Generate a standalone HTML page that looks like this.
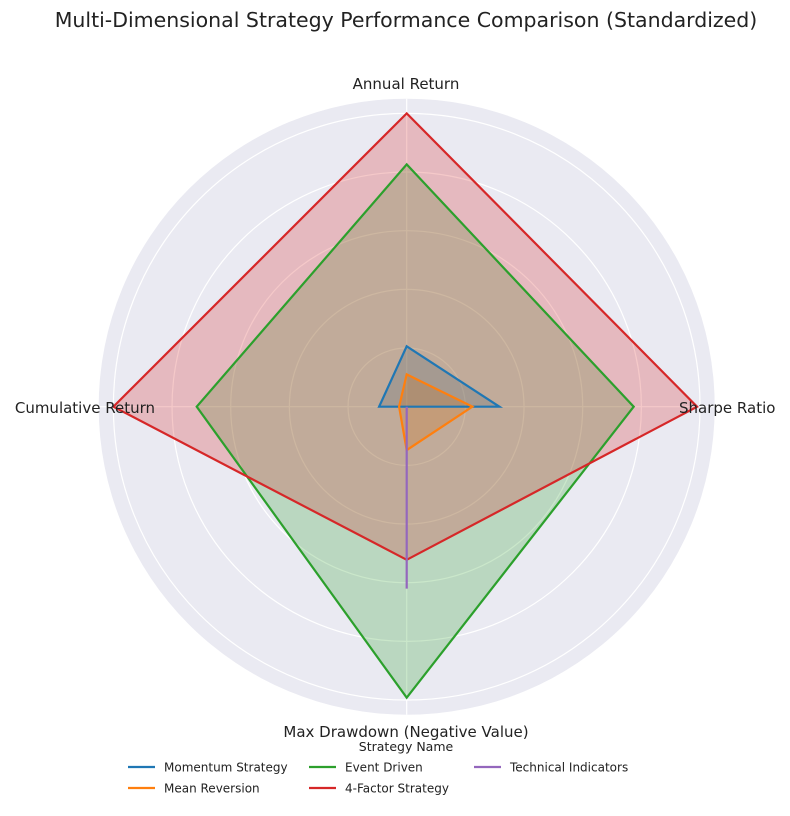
<!DOCTYPE html>
<html><head><meta charset="utf-8"><style>
body{margin:0;background:#fff;}
svg{font-family:"DejaVu Sans","Liberation Sans",sans-serif;}
</style></head><body>
<svg id="chart" width="790" height="811" viewBox="0 0 790 811">
<text x="406" y="27" text-anchor="middle" font-size="20.5" fill="#222">Multi-Dimensional Strategy Performance Comparison (Standardized)</text>
<g id="grid"></g>
<g id="fills"></g>
<g id="series"></g>
<g id="labels"></g>
<g id="legend"></g>
</svg>
<script>
const categories = ["Annual Return","Sharpe Ratio","Max Drawdown (Negative Value)","Cumulative Return"];
const seriesNames = ["Momentum Strategy","Mean Reversion","Event Driven","4-Factor Strategy","Technical Indicators"];
const momentum = [1.03,1.58,0,0.47];
const meanReversion = [0.55,1.12,0.74,0.13];
const eventDriven = [4.13,3.87,4.96,3.58];
const fourFactor = [5.0,4.95,2.61,5.0];
const technical = [0,0,3.1,0];
const radialTicks = [1,2,3,4,5];
const rMax = 5.25;

const seriesValues = [momentum,meanReversion,eventDriven,fourFactor,technical];
const colors = ["#1f77b4","#ff7f0e","#2ca02c","#d62728","#9467bd"];
const cx=406.7, cy=406.7, R=308;
const NS="http://www.w3.org/2000/svg";
function rScale(v){return v/rMax*R;}
function angle(i){return -Math.PI/2 + i*2*Math.PI/categories.length;}
function pt(i,v){const a=angle(i),r=rScale(v);return [cx+r*Math.cos(a), cy+r*Math.sin(a)];}
function mk(tag,attrs,parent){const e=document.createElementNS(NS,tag);for(const k in attrs)e.setAttribute(k,attrs[k]);parent.appendChild(e);return e;}

const grid=document.getElementById('grid');
const bg=mk('circle',{cx:cx,cy:cy,r:R,fill:'#eaeaf2'},grid);


radialTicks.forEach(t=>{
  const c=mk('circle',{cx:cx,cy:cy,r:rScale(t),fill:'none',stroke:'#fff','stroke-width':1.2},grid);
  
  
});
categories.forEach((c,i)=>{
  const p=pt(i,rMax);
  const l=mk('line',{x1:cx,y1:cy,x2:p[0],y2:p[1],stroke:'#fff','stroke-width':1.2},grid);
  
  
});

const fg=document.getElementById('fills');
const sg=document.getElementById('series');
seriesValues.forEach((vals,s)=>{
  const pts=vals.map((v,i)=>pt(i,v));
  const d=pts.map(p=>p[0].toFixed(1)+','+p[1].toFixed(1)).join(' ');
  const f=mk('polygon',{points:d,fill:colors[s],'fill-opacity':0.25,stroke:'none'},fg);
  
  
  const o=mk('polygon',{points:d,fill:'none',stroke:colors[s],'stroke-width':2.2,'stroke-linejoin':'miter'},sg);
  
  
});

const lg=document.getElementById('labels');
const labelPos=[[406,89,'middle'],[679,413,'start'],[406,737,'middle'],[155,413,'end']];
categories.forEach((c,i)=>{
  const t=mk('text',{x:labelPos[i][0],y:labelPos[i][1],'text-anchor':labelPos[i][2],'font-size':15,fill:'#222'},lg);
  t.textContent=c;
  
  
});

const leg=document.getElementById('legend');
const lt=mk('text',{x:406,y:751,'text-anchor':'middle','font-size':12.5,fill:'#222'},leg);
lt.textContent="Strategy Name";


const colX=[128,309,474], rowY=[767,788];
seriesNames.forEach((n,s)=>{
  const col=Math.floor(s/2), row=s%2;
  const g=mk('g',{},leg);
  
  
  mk('line',{x1:colX[col],y1:rowY[row],x2:colX[col]+27,y2:rowY[row],stroke:colors[s],'stroke-width':2.2},g);
  const t=mk('text',{x:colX[col]+36,y:rowY[row]+4.5,'font-size':12,fill:'#222'},g);
  t.textContent=n;
});
</script>
</body></html>
